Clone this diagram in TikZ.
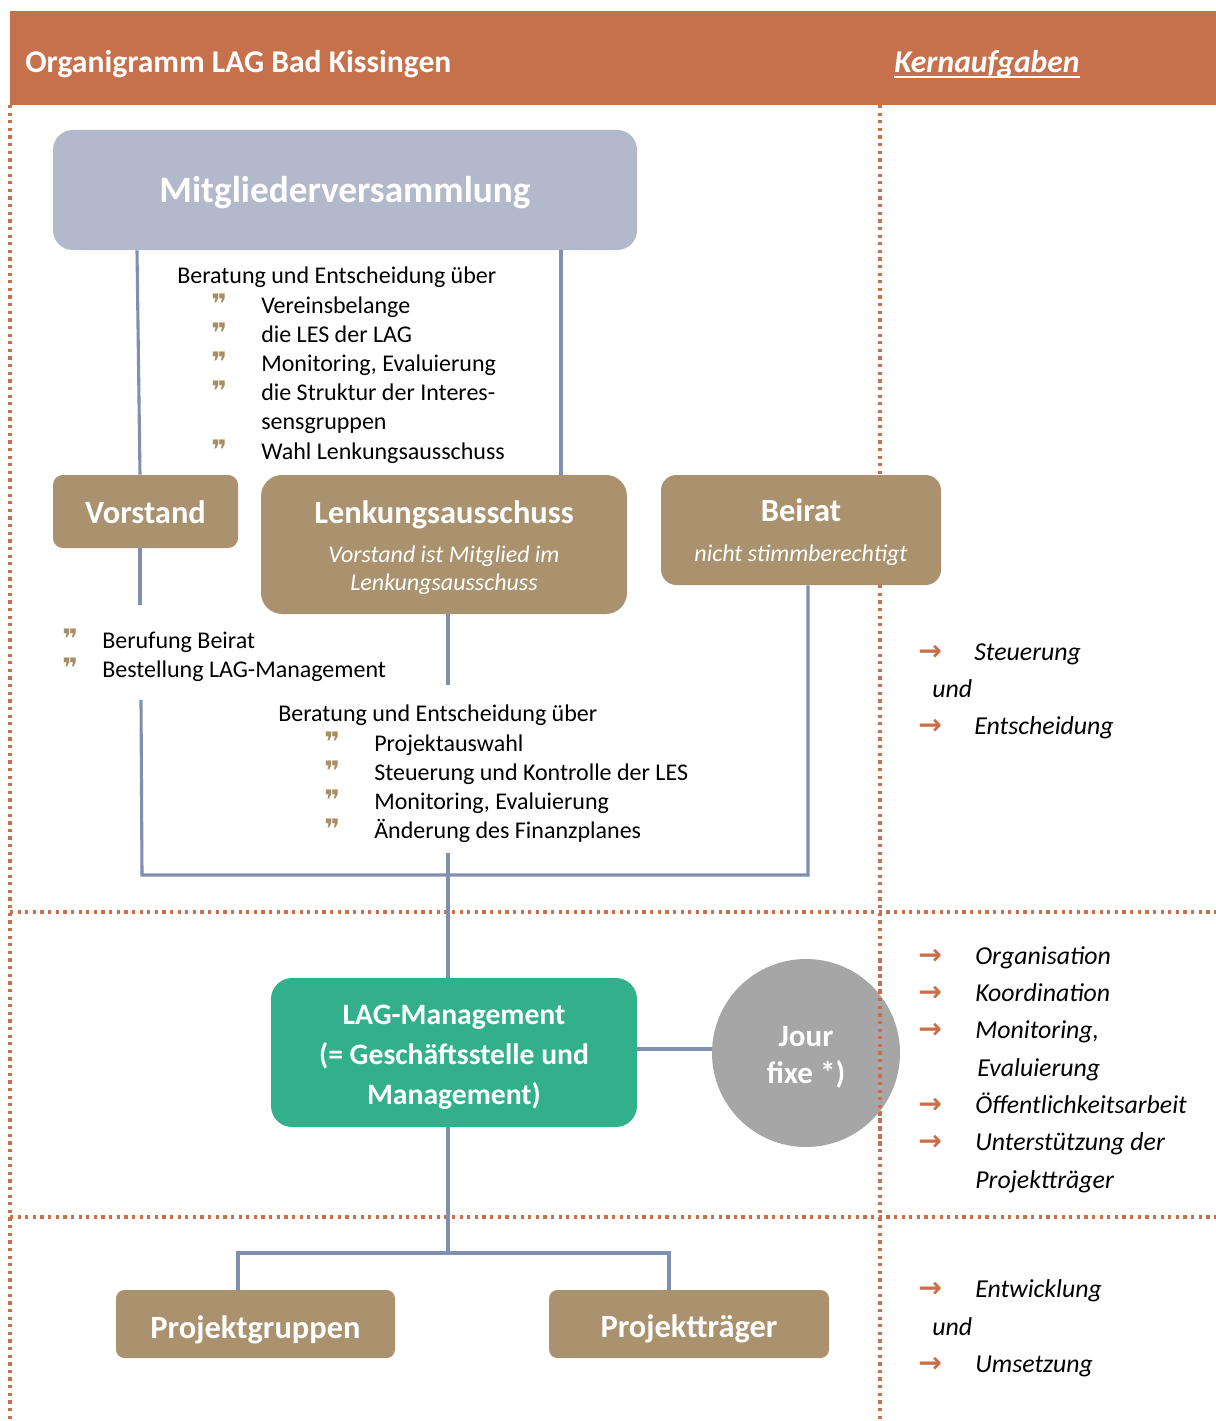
\documentclass[tikz,border=0pt]{standalone}
\usepackage{fontspec}
\setmainfont{Carlito}
\newfontfamily\symf{DejaVu Sans}
\definecolor{hdr}{RGB}{199,112,76}
\definecolor{mvc}{RGB}{178,185,203}
\definecolor{tan}{RGB}{170,146,111}
\definecolor{grn}{RGB}{50,176,140}
\definecolor{jfc}{RGB}{166,166,166}
\definecolor{lnc}{RGB}{128,143,176}
\definecolor{bul}{RGB}{168,142,100}
\definecolor{arr}{RGB}{205,110,75}
\def\u{0.7087pt}
\newcommand{\bq}{{\symf\bfseries\fontsize{19}{19}\selectfont\color{bul}\char"275E}}
\newcommand{\ar}{{\symf\bfseries\fontsize{20}{20}\selectfont\color{arr}\char"2192}}
\tikzset{
  orgbox/.style={rounded corners=#1, inner sep=0pt},
  orgbox/.default=10pt,
  conn/.style={draw=lnc, line width=2.2pt},
  sep/.style={draw=hdr, line width=2.3pt, dash pattern=on 2.3pt off 3.1pt},
  txt/.style={anchor=base west, inner sep=0pt, font=\fontsize{17}{20.8}\selectfont},
  itx/.style={anchor=base west, inner sep=0pt, font=\itshape\fontsize{18.3}{22}\selectfont},
  sub/.style={anchor=base, inner sep=0pt, text=white, font=\itshape\fontsize{17}{20.8}\selectfont},
  ttl/.style={anchor=base, inner sep=0pt, text=white, font=\bfseries\fontsize{23}{27}\selectfont},
}
\begin{document}
\begin{tikzpicture}[x=0.7087pt,y=-0.7087pt]
\useasboundingbox (0,0) rectangle (1216,1421);
\fill[white] (0,0) rectangle (1216,1421);
% header
\node[fill=hdr, minimum width=1206*\u, minimum height=94*\u, inner sep=0pt] (hdr) at (613,58) {};
\node[anchor=base west, inner sep=0pt, text=white, font=\bfseries\fontsize{22.4}{26}\selectfont] (title) at (25,73) {Organigramm LAG Bad Kissingen};
\node[anchor=base west, inner sep=0pt, text=white, font=\bfseries\itshape\fontsize{22.4}{26}\selectfont] (kern) at (894,73) {Kernaufgaben};
\draw[white, line width=1.6pt] ([yshift=-3pt]kern.base west) -- ([yshift=-3pt]kern.base east);
% separators
\draw[sep] (10,105) -- (10,1421);
\draw[sep] (10,912) -- (1216,912);
\draw[sep] (10,1217) -- (1216,1217);
\draw[sep] (880,105) -- (880,1421);
% boxes
\node[orgbox=14pt, fill=mvc, minimum width=584*\u, minimum height=120*\u] (mv) at (345,190) {};
\node[ttl, font=\bfseries\fontsize{26.4}{30}\selectfont] (mvt) at (345,203) {Mitgliederversammlung};
\node[orgbox=7pt, fill=tan, minimum width=185*\u, minimum height=73*\u] (vo) at (145.5,511.5) {};
\node[ttl] (vot) at (145.5,523) {Vorstand};
\node[orgbox=15pt, fill=tan, minimum width=366*\u, minimum height=139*\u] (lk) at (444,544.5) {};
\node[ttl] (lkt) at (444,523) {Lenkungsausschuss};
\node[sub] (lk1) at (444,562) {Vorstand ist Mitglied im};
\node[sub] (lk2) at (444,590) {Lenkungsausschuss};
\node[orgbox=11pt, fill=tan, minimum width=280*\u, minimum height=110*\u] (be) at (801,530) {};
\node[ttl] (bet) at (801,521) {Beirat};
\node[sub] (be1) at (801,561) {nicht stimmberechtigt};
\node[orgbox=15pt, fill=grn, minimum width=366*\u, minimum height=149*\u] (lag) at (454,1052.5) {};
\node[ttl, font=\bfseries\fontsize{21}{25}\selectfont] (lg1) at (454,1024) {LAG-Management};
\node[ttl, font=\bfseries\fontsize{21}{25}\selectfont] (lg2) at (454,1064) {(= Geschäftsstelle und};
\node[ttl, font=\bfseries\fontsize{21}{25}\selectfont] (lg3) at (454,1104) {Management)};
\node[circle, fill=jfc, minimum size=188*\u, inner sep=0pt] (jf) at (806,1053) {};
\node[ttl, font=\bfseries\fontsize{22}{26}\selectfont] (jf1) at (806,1046) {Jour};
\node[ttl, font=\bfseries\fontsize{22}{26}\selectfont] (jf2) at (806,1083) {fixe *)};
\node[orgbox=6pt, fill=tan, minimum width=279*\u, minimum height=68*\u] (pg) at (255.5,1324) {};
\node[ttl] (pgt) at (255.5,1338) {Projektgruppen};
\node[orgbox=6pt, fill=tan, minimum width=280*\u, minimum height=68*\u] (pt) at (689,1324) {};
\node[ttl] (ptt) at (689,1337) {Projektträger};
\draw[sep] (880,960) -- (880,1150);
% connector free ends
\coordinate (v1) at (140,605);
\coordinate (v2) at (141,700);
\coordinate (v3) at (142,875);
\coordinate (v4) at (808,875);
\coordinate (l1) at (448,685);
\coordinate (l2) at (448,853);
\coordinate (b1) at (448,1253);
\coordinate (b2) at (238,1253);
\coordinate (b3) at (669,1253);
% connectors
\draw[conn] (137,0 |- mv.south) -- (140,0 |- vo.north);
\draw[conn] (140,0 |- vo.south) -- (v1);
\draw[conn] (v2) -- (v3) -- (v4) -- (808,0 |- be.south);
\draw[conn] (561,0 |- mv.south) -- (561,0 |- lk.north);
\draw[conn] (448,0 |- lk.south) -- (l1);
\draw[conn] (l2) -- (448,0 |- lag.north);
\draw[conn] (lag.east |- 0,1049) -- (jf.west |- 0,1049);
\draw[conn] (448,0 |- lag.south) -- (b1);
\draw[conn] (238,0 |- pg.north) -- (b2) -- (b3) -- (669,0 |- pt.north);
% MV text
\node[txt] (m0) at (177,283) {Beratung und Entscheidung über};
\node[txt] (m1b) at (211,313) {\bq}; \node[txt] (m1) at (261,313) {Vereinsbelange};
\node[txt] (m2b) at (211,342) {\bq}; \node[txt] (m2) at (261,342) {die LES der LAG};
\node[txt] (m3b) at (211,371) {\bq}; \node[txt] (m3) at (261,371) {Monitoring, Evaluierung};
\node[txt] (m4b) at (211,400) {\bq}; \node[txt] (m4) at (261,400) {die Struktur der Interes-};
\node[txt] (m5) at (261,429) {sensgruppen};
\node[txt] (m6b) at (211,459) {\bq}; \node[txt] (m6) at (261,459) {Wahl Lenkungsausschuss};
% Vorstand text
\node[txt] (s1b) at (62,648) {\bq}; \node[txt] (s1) at (102,648) {Berufung Beirat};
\node[txt] (s2b) at (62,677) {\bq}; \node[txt] (s2) at (102,677) {Bestellung LAG-Management};
% Lenkungsausschuss text
\node[txt] (k0) at (278,721) {Beratung und Entscheidung über};
\node[txt] (k1b) at (324,751) {\bq}; \node[txt] (k1) at (374,751) {Projektauswahl};
\node[txt] (k2b) at (324,780) {\bq}; \node[txt] (k2) at (374,780) {Steuerung und Kontrolle der LES};
\node[txt] (k3b) at (324,809) {\bq}; \node[txt] (k3) at (374,809) {Monitoring, Evaluierung};
\node[txt] (k4b) at (324,838) {\bq}; \node[txt] (k4) at (374,838) {Änderung des Finanzplanes};
% right column
\node[txt] (r1a) at (918,660) {\ar}; \node[itx] (r1) at (974,660) {Steuerung};
\node[itx] (r2) at (932,697) {und};
\node[txt] (r3a) at (918,734) {\ar}; \node[itx] (r3) at (974,734) {Entscheidung};
\node[txt] (q1a) at (918,964) {\ar}; \node[itx] (q1) at (975,964) {Organisation};
\node[txt] (q2a) at (918,1001) {\ar}; \node[itx] (q2) at (975,1001) {Koordination};
\node[txt] (q3a) at (918,1038) {\ar}; \node[itx] (q3) at (975,1038) {Monitoring,};
\node[itx] (q4) at (977,1076) {Evaluierung};
\node[txt] (q5a) at (918,1113) {\ar}; \node[itx] (q5) at (975,1113) {Öffentlichkeitsarbeit};
\node[txt] (q6a) at (918,1150) {\ar}; \node[itx] (q6) at (975,1150) {Unterstützung der};
\node[itx] (q7) at (975,1188) {Projektträger};
\node[txt] (e1a) at (918,1297) {\ar}; \node[itx] (e1) at (975,1297) {Entwicklung};
\node[itx] (e2) at (932,1335) {und};
\node[txt] (e3a) at (918,1372) {\ar}; \node[itx] (e3) at (975,1372) {Umsetzung};
\end{tikzpicture}
\end{document}
